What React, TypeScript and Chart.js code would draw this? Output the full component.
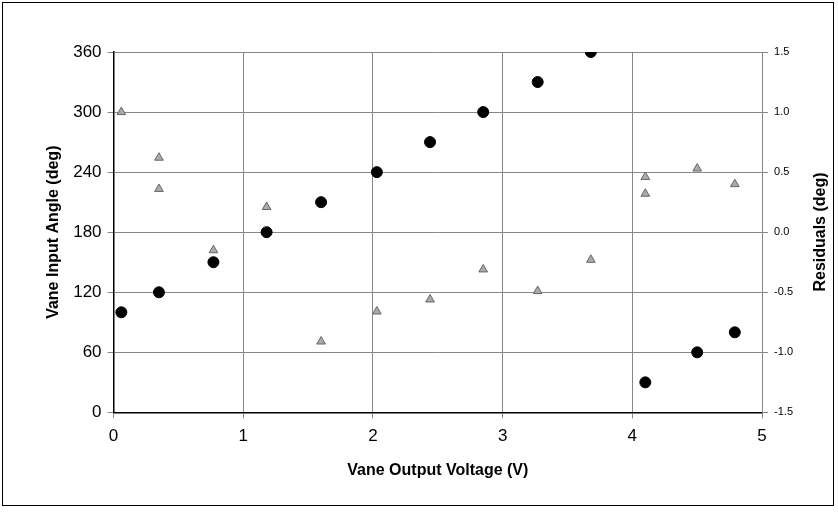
import { useEffect, useRef } from "react";
import Chart from "chart.js/auto";

const voltage = [0.06, 0.35, 0.77, 1.18, 1.6, 2.03, 2.44, 2.85, 3.27, 3.68, 4.1, 4.5, 4.79];
const angle = [100, 120, 150, 180, 210, 240, 270, 300, 330, 360, 30, 60, 80];
const residualX = [0.06, 0.35, 0.35, 0.77, 1.18, 1.6, 2.03, 2.44, 2.85, 3.27, 3.68, 4.1, 4.1, 4.5, 4.79];
const residual = [1.0, 0.62, 0.36, -0.15, 0.21, -0.91, -0.66, -0.56, -0.31, -0.49, -0.23, 0.46, 0.32, 0.53, 0.4];

export default function App() {
  const chartRef = useRef<HTMLCanvasElement>(null);

  useEffect(() => {
    if (!chartRef.current) return;
    const chart = new Chart(chartRef.current, {
      type: "scatter",
      data: {
        datasets: [
          {
            label: "Angle",
            data: voltage.map((v, i) => ({ x: v, y: angle[i] })),
            backgroundColor: "#000",
            borderColor: "#000",
            pointRadius: 5.5,
            yAxisID: "y",
          },
          {
            label: "Residuals",
            data: residualX.map((v, i) => ({ x: v, y: residual[i] })),
            pointStyle: "triangle",
            backgroundColor: "#aaa",
            borderColor: "#666",
            borderWidth: 1,
            pointRadius: 5,
            yAxisID: "y1",
          },
        ],
      },
      options: {
        animation: false,
        responsive: true,
        maintainAspectRatio: false,
        layout: { padding: { top: 50, right: 35, left: 38, bottom: 22 } },
        plugins: { legend: { display: false }, tooltip: { enabled: false } },
        scales: {
          x: {
            min: 0,
            max: 5,
            ticks: { stepSize: 1, color: "#000", padding: 8, font: { family: "Liberation Sans", size: 17 } },
            grid: { color: "#888", tickLength: 6 },
            border: { color: "#000", width: 1.5 },
            title: {
              display: true,
              text: "Vane Output Voltage (V)",
              color: "#000",
              font: { family: "Liberation Sans", size: 16, weight: "bold" },
              padding: { top: 6 },
            },
          },
          y: {
            min: 0,
            max: 360,
            ticks: { stepSize: 60, color: "#000", padding: 6, font: { family: "Liberation Sans", size: 17 } },
            grid: { color: "#888", tickLength: 6 },
            border: { color: "#000", width: 1.5 },
            title: {
              display: true,
              text: "Vane Input Angle (deg)",
              color: "#000",
              font: { family: "Liberation Sans", size: 16, weight: "bold" },
            },
          },
          y1: {
            position: "right",
            min: -1.5,
            max: 1.5,
            ticks: {
              stepSize: 0.5,
              color: "#000",
              padding: 6,
              font: { family: "Liberation Sans", size: 11 },
              callback: (v) => Number(v).toFixed(1),
            },
            grid: { drawOnChartArea: false, color: "#888", tickLength: 6 },
            border: { color: "#888" },
          },
        },
      },
    });
    return () => chart.destroy();
  }, []);

  return (
    <div style={{ position: "fixed", left: 2, top: 2, width: 832, height: 504 }}>
      <canvas ref={chartRef}></canvas>
      <div
        style={{
          position: "absolute",
          left: 818,
          top: 230,
          transform: "translate(-50%, -50%) rotate(-90deg)",
          whiteSpace: "nowrap",
          fontFamily: "Liberation Sans",
          fontWeight: "bold",
          fontSize: 16,
        }}
      >
        Residuals (deg)
      </div>
      <div
        style={{
          position: "absolute",
          left: 0,
          top: 0,
          width: 832,
          height: 504,
          boxSizing: "border-box",
          border: "1px solid #000",
          pointerEvents: "none",
        }}
      />
    </div>
  );
}
